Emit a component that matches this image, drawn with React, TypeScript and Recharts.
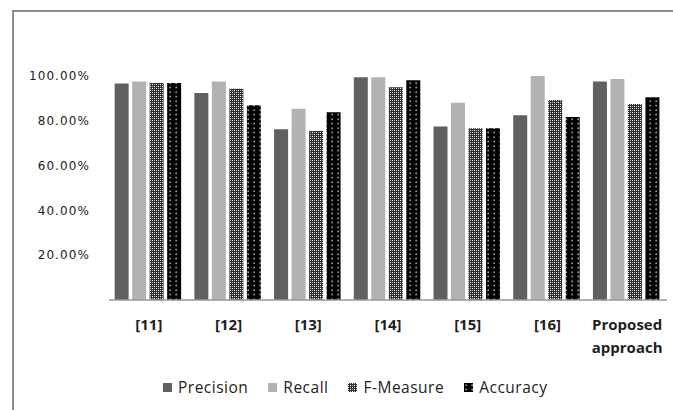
import React from 'react';
import { BarChart, Bar, XAxis, YAxis, Legend } from 'recharts';

const categories = ['[11]', '[12]', '[13]', '[14]', '[15]', '[16]', 'Proposed approach'];
const precision = [0.967, 0.924, 0.762, 0.994, 0.774, 0.825, 0.975];
const recall = [0.975, 0.975, 0.854, 0.994, 0.881, 1.0, 0.987];
const fMeasure = [0.969, 0.943, 0.754, 0.95, 0.767, 0.893, 0.875];
const accuracy = [0.969, 0.869, 0.838, 0.981, 0.767, 0.817, 0.905];
const yTicks = [0.2, 0.4, 0.6, 0.8, 1.0];

const data = categories.map((name, i) => ({
  name,
  precision: precision[i],
  recall: recall[i],
  fMeasure: fMeasure[i],
  accuracy: accuracy[i],
}));

const series = [
  { key: 'precision', name: 'Precision', fill: '#606060' },
  { key: 'recall', name: 'Recall', fill: '#b2b2b2' },
  { key: 'fMeasure', name: 'F-Measure', fill: 'url(#patF)' },
  { key: 'accuracy', name: 'Accuracy', fill: 'url(#patA)' },
];

const Patterns = () => (
  <svg width={0} height={0} style={{ position: 'absolute' }}>
    <defs>
      <pattern id="patF" width={4} height={4} patternUnits="userSpaceOnUse">
        <rect width={4} height={4} fill="#303030" />
        <rect x={0} y={0} width={1} height={1} fill="#ffffff" />
        <rect x={2} y={2} width={1} height={1} fill="#ffffff" />
        <rect x={2} y={0} width={1} height={1} fill="#b5b5b5" />
        <rect x={0} y={2} width={1} height={1} fill="#b5b5b5" />
      </pattern>
      <pattern id="patA" width={6} height={4.5} patternUnits="userSpaceOnUse">
        <rect width={6} height={4.5} fill="#000000" />
        <rect x={1.5} y={1.5} width={1.3} height={1.3} fill="#ffffff" />
      </pattern>
    </defs>
  </svg>
);

const XTick = (props: any) => {
  const { x, y, payload } = props;
  const words: string[] = payload.value.includes(' ') ? payload.value.split(' ') : [payload.value];
  return (
    <text x={x} y={y} textAnchor="middle" fontSize={15} fontWeight="bold" fill="#1f1f1f" fontFamily="Open Sans">
      {words.map((w, i) => (
        <tspan key={i} x={x} dy={i === 0 ? 30 : 23}>{w}</tspan>
      ))}
    </text>
  );
};

const LegendContent = () => (
  <div style={{ display: 'flex', height: 30, fontFamily: 'Open Sans', fontSize: 15.5, letterSpacing: 0.5, color: '#222', lineHeight: '16px' }}>
    {series.map((s, i) => (
      <div key={s.key} style={{ display: 'flex', alignItems: 'center', marginRight: 20 }}>
        <svg width={9} height={9} style={{ marginRight: 6 }}>
          <rect width={9} height={9} fill={s.fill} />
        </svg>
        <span>{s.name}</span>
      </div>
    ))}
  </div>
);

export default function App() {
  return (
    <div style={{ position: 'absolute', left: 0, top: 0, width: 673, height: 410, background: '#fff' }}>
      <Patterns />
      <div
        style={{
          position: 'absolute', left: 12, top: 10, width: 661, height: 400,
          borderTop: '2px solid #8c8c8c', borderLeft: '2px solid #8c8c8c',
        }}
      />
      <BarChart
        width={673}
        height={410}
        data={data}
        margin={{ top: 76, right: 6, left: 0, bottom: 0 }}
        barCategoryGap={5.65}
        barGap={3.5}
        style={{ position: 'absolute', left: 0, top: 0 }}
      >
        <XAxis
          dataKey="name"
          height={80}
          tick={<XTick />}
          tickLine={false}
          tickSize={0}
          tickMargin={0}
          interval={0}
          axisLine={{ stroke: '#999', strokeWidth: 1.5 }}
        />
        <YAxis
          width={109}
          domain={[0, 1]}
          ticks={yTicks}
          tickFormatter={(v: number) => (v * 100).toFixed(2) + '%'}
          axisLine={false}
          tickLine={false}
          tickSize={0}
          tickMargin={19}
          tick={{ fontSize: 12, fill: '#222', fontFamily: 'DejaVu Sans', letterSpacing: 1.1 }}
        />
        <Legend
          verticalAlign="bottom"
          content={<LegendContent />}
          wrapperStyle={{ left: 163, width: 'auto', top: 372 }}
        />
        {series.map(s => (
          <Bar key={s.key} dataKey={s.key} name={s.name} fill={s.fill} isAnimationActive={false} />
        ))}
      </BarChart>
    </div>
  );
}
